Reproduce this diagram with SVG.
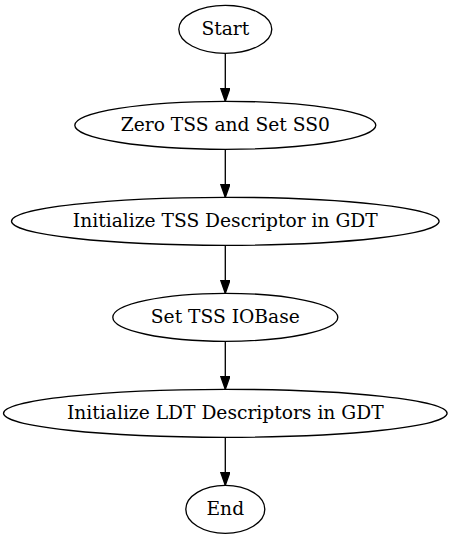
<svg xmlns="http://www.w3.org/2000/svg" width="451" height="539" viewBox="0 0 451 539">
<style>
.n ellipse{fill:none;stroke:#000;stroke-width:1.33}
.n text{font-family:"DejaVu Serif",serif;font-size:18.67px;text-anchor:middle;fill:#000}
.e path{fill:none;stroke:#000;stroke-width:1.33}
</style>
<defs>
<marker id="ah" markerUnits="userSpaceOnUse" markerWidth="14" markerHeight="10" refX="13.33" refY="4.67" orient="auto">
<polygon points="0,0 13.33,4.67 0,9.33" fill="#000" stroke="#000" stroke-width="1.33"/>
</marker>
</defs>
<rect width="451" height="539" fill="#fff"/>
<g id="edges" class="e">
<path d="M225.3,53.3 V101.3" marker-end="url(#ah)"/>
<path d="M225.3,149.3 V197.3" marker-end="url(#ah)"/>
<path d="M225.3,245.3 V293.3" marker-end="url(#ah)"/>
<path d="M225.3,341.3 V389.3" marker-end="url(#ah)"/>
<path d="M225.3,437.3 V485.3" marker-end="url(#ah)"/>
</g>
<g id="start" class="n"><ellipse cx="225.3" cy="29.3" rx="46.5" ry="24"/><text x="225.3" y="34.6">Start</text></g>
<g id="zero" class="n"><ellipse cx="225.3" cy="125.3" rx="150.5" ry="24"/><text x="225.3" y="130.6">Zero TSS and Set SS0</text></g>
<g id="inittss" class="n"><ellipse cx="225.3" cy="221.3" rx="213.8" ry="24"/><text x="225.3" y="226.6">Initialize TSS Descriptor in GDT</text></g>
<g id="iobase" class="n"><ellipse cx="225.3" cy="317.3" rx="112.5" ry="24"/><text x="225.3" y="322.6">Set TSS IOBase</text></g>
<g id="initldt" class="n"><ellipse cx="225.3" cy="413.3" rx="221.8" ry="24"/><text x="225.3" y="418.6">Initialize LDT Descriptors in GDT</text></g>
<g id="end" class="n"><ellipse cx="225.3" cy="509.3" rx="39.5" ry="24"/><text x="225.3" y="514.6">End</text></g>
</svg>
